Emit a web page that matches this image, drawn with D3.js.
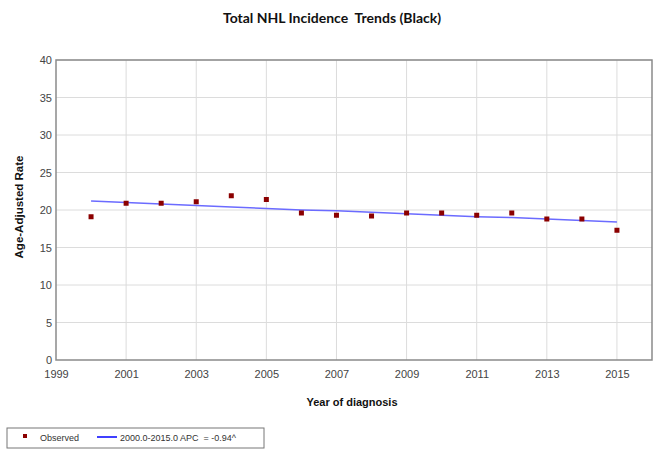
<!DOCTYPE html>
<html><head><meta charset="utf-8">
<script src="https://cdn.jsdelivr.net/npm/d3@7"></script>
<style>body{margin:0;background:#fff}svg{display:block}text{white-space:pre}</style>
</head><body>
<svg id="c" width="657" height="455"></svg>
<script>
const years = [2000,2001,2002,2003,2004,2005,2006,2007,2008,2009,2010,2011,2012,2013,2014,2015];
const observed = [19.1,20.9,20.9,21.1,21.9,21.4,19.6,19.3,19.2,19.6,19.6,19.3,19.6,18.8,18.8,17.3];
const trend = [21.2,21.0,20.8,20.6,20.4,20.2,20.0,19.9,19.7,19.5,19.3,19.1,19.0,18.8,18.6,18.4];
const xTicks = [1999,2001,2003,2005,2007,2009,2011,2013,2015];
const yTicks = [0,5,10,15,20,25,30,35,40];
const title = "Total NHL Incidence  Trends (Black)";
const xLabel = "Year of diagnosis";
const yLabel = "Age-Adjusted Rate";
const legendObserved = "Observed";
const legendTrend = "2000.0-2015.0 APC  = -0.94^";

const svg = d3.select("#c");
const L=56, R=652, T=60, B=360;
const x = d3.scaleLinear().domain([1999,2016]).range([L,R]);
const y = d3.scaleLinear().domain([0,40]).range([B,T]);

svg.append("text").attr("x",332).attr("y",23).attr("text-anchor","middle")
  .attr("font-family","Lato, 'Open Sans', sans-serif").attr("font-weight","bold")
  .attr("font-size","14px").attr("fill","#111").text(title);

// grid
const g = svg.append("g");
g.selectAll(".gy").data(yTicks.slice(1)).join("line")
  .attr("x1",L).attr("x2",R).attr("y1",d=>y(d)).attr("y2",d=>y(d))
  .attr("stroke","#dcdcdc").attr("stroke-width",1);
g.selectAll(".gx").data(xTicks.slice(1)).join("line")
  .attr("y1",T).attr("y2",B).attr("x1",d=>x(d)).attr("x2",d=>x(d))
  .attr("stroke","#dcdcdc").attr("stroke-width",1);

// frame
svg.append("rect").attr("x",L).attr("y",T).attr("width",R-L).attr("height",B-T)
  .attr("fill","none").attr("stroke","#8a8a8a").attr("stroke-width",1.5);

// axes labels
const yAxis = d3.axisLeft(y).tickValues(yTicks).tickSize(0).tickPadding(4);
const ya = svg.append("g").attr("transform",`translate(${L},0)`).call(yAxis);
ya.select(".domain").remove();
ya.selectAll("text").attr("font-family","'Liberation Sans', Arial, sans-serif").attr("font-size","11px").attr("fill","#444");

const xAxis = d3.axisBottom(x).tickValues(xTicks).tickFormat(d3.format("d")).tickSize(0).tickPadding(10);
const xa = svg.append("g").attr("transform",`translate(0,${B})`).call(xAxis);
xa.select(".domain").remove();
xa.selectAll("text").attr("font-family","'Liberation Sans', Arial, sans-serif").attr("font-size","11px").attr("fill","#444");

svg.append("text").attr("x",352).attr("y",406).attr("text-anchor","middle")
  .attr("font-family","'Liberation Sans', Arial, sans-serif").attr("font-weight","bold")
  .attr("font-size","11px").attr("fill","#111").text(xLabel);
svg.append("text").attr("transform","translate(23,207) rotate(-90)").attr("text-anchor","middle")
  .attr("font-family","'Liberation Sans', Arial, sans-serif").attr("font-weight","bold")
  .attr("font-size","11.5px").attr("fill","#111").text(yLabel);

// trend line
const line = d3.line().x((d,i)=>x(years[i])).y(d=>y(d));
svg.append("path").datum(trend).attr("d",line).attr("fill","none")
  .attr("stroke","#6b6bff").attr("stroke-width",1.5);

// points
svg.selectAll(".pt").data(observed).join("rect")
  .attr("x",(d,i)=>x(years[i])-2.5).attr("y",d=>y(d)-2.5)
  .attr("width",5).attr("height",5).attr("fill","#8b0000");

// legend
const lg = svg.append("g");
lg.append("rect").attr("x",7).attr("y",428).attr("width",257).attr("height",20)
  .attr("fill","#fff").attr("stroke","#777").attr("stroke-width",1);
lg.append("rect").attr("x",23).attr("y",434).attr("width",4).attr("height",4).attr("fill","#8b0000");
lg.append("text").attr("x",40).attr("y",441).attr("font-family","'Liberation Sans', Arial, sans-serif")
  .attr("font-size","9px").attr("fill","#333").text(legendObserved);
lg.append("line").attr("x1",97).attr("x2",117).attr("y1",437).attr("y2",437)
  .attr("stroke","#0000ff").attr("stroke-width",1.5);
lg.append("text").attr("x",120).attr("y",441).attr("font-family","'Liberation Sans', Arial, sans-serif")
  .attr("font-size","9px").attr("fill","#333").text(legendTrend);
</script>
</body></html>
